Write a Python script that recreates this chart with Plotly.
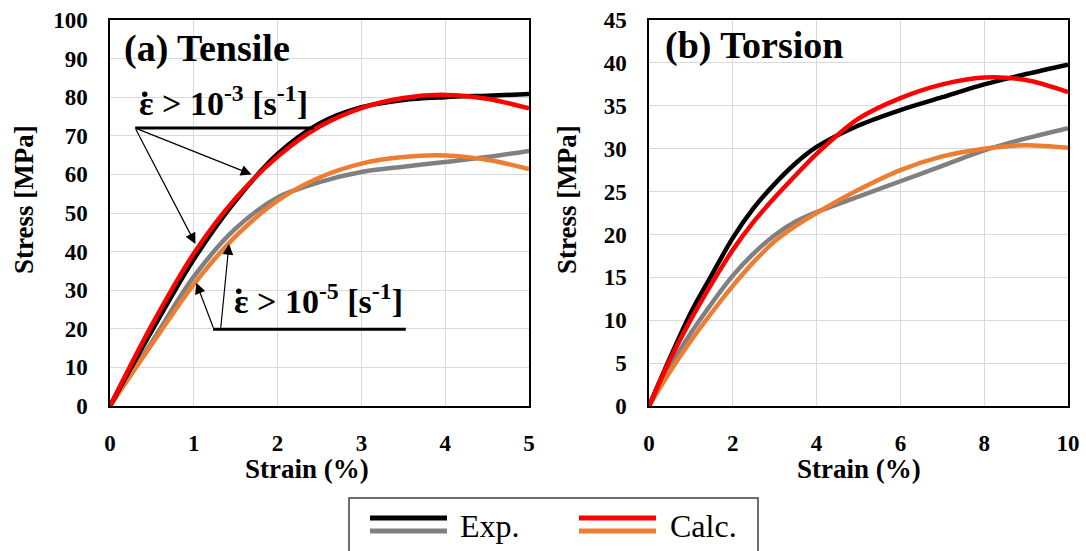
import plotly.graph_objects as go

W, H = 1086, 551

# ---------------- data ----------------
tens_x = [0, 0.5, 1, 1.5, 2, 2.5, 3, 3.5, 4, 4.5, 5]
tens_exp_hi = [0, 19.5, 38, 53.2, 65.3, 73.2, 77.4, 79.3, 80.0, 80.4, 80.8]
tens_calc_hi = [0, 21, 39.5, 53.8, 64.6, 72.4, 77.2, 79.8, 80.6, 79.6, 77.1]
tens_exp_lo = [0, 16.6, 33.5, 46, 54, 58, 60.6, 62, 63.2, 64.5, 66.1]
tens_calc_lo = [0, 16, 31.5, 44, 53.2, 59.2, 62.8, 64.5, 64.9, 63.8, 61.4]

tors_x = [0, 0.5, 1, 1.5, 2, 2.5, 3, 3.5, 4, 5, 6, 7, 8, 9, 10]
tors_exp_hi = [0, 5.6, 10.9, 15.3, 19.6, 23.1, 25.9, 28.3, 30.2, 32.7, 34.5, 36, 37.5, 38.7, 39.8]
tors_calc_hi = [0, 5.4, 10.1, 14.3, 18.2, 21.5, 24.3, 26.9, 29.4, 33.5, 35.9, 37.5, 38.3, 38, 36.6]
tors_exp_lo = [0, 4.6, 8.5, 12, 15.2, 17.8, 19.9, 21.5, 22.6, 24.4, 26.2, 28, 29.8, 31.2, 32.4]
tors_calc_lo = [0, 4, 7.6, 10.9, 14, 16.8, 19.2, 21, 22.5, 25.2, 27.5, 29.1, 30, 30.4, 30.1]

tens_ticks_y = list(range(0, 101, 10))
tors_ticks_y = list(range(0, 46, 5))

panel_titles = ["(a) Tensile", "(b) Torsion"]
x_title = "Strain (%)"
y_title = "Stress [MPa]"
rate_hi = "ε &gt; 10<sup>-3</sup> [s<sup>-1</sup>]"
rate_lo = "ε &gt; 10<sup>-5</sup> [s<sup>-1</sup>]"
legend_labels = ["Exp.", "Calc."]

C_EXP_HI, C_EXP_LO = "#000000", "#808080"
C_CALC_HI, C_CALC_LO = "#ff0000", "#ed7d31"

FONT = "Liberation Serif"

def px(x):
    return x / W

def py(y):
    return 1 - y / H

fig = go.Figure()

def add_curves(xs, ys_list, colors, xa, ya):
    for ys, c in zip(ys_list, colors):
        fig.add_trace(go.Scatter(x=xs, y=ys, mode="lines",
                                 line=dict(color=c, width=4.5, shape="spline", smoothing=0.9),
                                 xaxis=xa, yaxis=ya, showlegend=False, hoverinfo="skip"))

add_curves(tens_x, [tens_exp_lo, tens_calc_lo, tens_exp_hi, tens_calc_hi],
           [C_EXP_LO, C_CALC_LO, C_EXP_HI, C_CALC_HI], "x", "y")
add_curves(tors_x, [tors_exp_lo, tors_calc_lo, tors_exp_hi, tors_calc_hi],
           [C_EXP_LO, C_CALC_LO, C_EXP_HI, C_CALC_HI], "x2", "y2")

ax_common = dict(showgrid=True, gridcolor="#d9d9d9", gridwidth=1, zeroline=False,
                 showline=True, linecolor="black", linewidth=1.5, mirror=True,
                 ticks="", ticklabelstandoff=16, automargin=False,
                 tickfont=dict(family=FONT, size=23, color="black", weight="bold"))

fig.update_layout(
    width=W, height=H, margin=dict(l=0, r=0, t=0, b=0, pad=0, autoexpand=False),
    paper_bgcolor="white", plot_bgcolor="white", showlegend=False,
    xaxis=dict(domain=[px(110), px(529)], range=[0, 5], dtick=1, anchor="y", **ax_common),
    yaxis=dict(domain=[py(406), py(20)], range=[0, 100], tickvals=tens_ticks_y, anchor="x", **ax_common),
    xaxis2=dict(domain=[px(649), px(1068)], range=[0, 10], dtick=2, anchor="y2", **ax_common),
    yaxis2=dict(domain=[py(406), py(20)], range=[0, 45], tickvals=tors_ticks_y, anchor="x2", **ax_common),
)

ann = []
bold = lambda s: "<b>" + s + "</b>"
# panel titles
ann.append(dict(x=px(122), y=py(48), xref="paper", yref="paper", text=bold(panel_titles[0]),
                showarrow=False, xanchor="left", yanchor="middle",
                font=dict(family=FONT, size=38, color="black")))
ann.append(dict(x=px(663), y=py(46), xref="paper", yref="paper", text=bold(panel_titles[1]),
                showarrow=False, xanchor="left", yanchor="middle",
                font=dict(family=FONT, size=38, color="black")))
# axis titles
for cx in (px(307), px(859)):
    ann.append(dict(x=cx, y=py(469), xref="paper", yref="paper", text=bold(x_title),
                    showarrow=False, xanchor="center", yanchor="middle",
                    font=dict(family=FONT, size=27, color="black")))
for cx in (px(24), px(567)):
    ann.append(dict(x=cx, y=py(200), xref="paper", yref="paper", text=bold(y_title),
                    showarrow=False, xanchor="center", yanchor="middle", textangle=-90,
                    font=dict(family=FONT, size=27, color="black")))
# rate labels
ann.append(dict(x=0.32, y=79.0, xref="x", yref="y", text=bold(rate_hi), showarrow=False,
                xanchor="left", yanchor="middle", font=dict(family=FONT, size=34, color="black")))
ann.append(dict(x=1.45, y=27.6, xref="x", yref="y", text=bold(rate_lo), showarrow=False,
                xanchor="left", yanchor="middle", font=dict(family=FONT, size=34, color="black")))
# arrows
arrows = [((0.3, 72), (1.69, 60.0)), ((0.3, 72), (1.02, 42.0)),
          ((1.24, 19.9), (1.03, 31.9)), ((1.32, 19.9), (1.42, 42))]
for (tx, ty), (hx, hy) in arrows:
    ann.append(dict(x=hx, y=hy, ax=tx, ay=ty, xref="x", yref="y", axref="x", ayref="y",
                    text="", showarrow=True, arrowhead=2, arrowsize=1.8, arrowwidth=1.2,
                    arrowcolor="black"))
# legend texts
ann.append(dict(x=px(458), y=py(526), xref="paper", yref="paper", text=legend_labels[0],
                showarrow=False, xanchor="left", yanchor="middle",
                font=dict(family=FONT, size=32, color="black")))
ann.append(dict(x=px(668), y=py(526), xref="paper", yref="paper", text=legend_labels[1],
                showarrow=False, xanchor="left", yanchor="middle",
                font=dict(family=FONT, size=32, color="black")))
fig.update_layout(annotations=ann)

shapes = [
    dict(type="line", xref="x", yref="y", x0=0.3, y0=72, x1=2.43, y1=72,
         line=dict(color="black", width=3)),
    dict(type="line", xref="x", yref="y", x0=1.23, y0=19.9, x1=3.53, y1=19.9,
         line=dict(color="black", width=3)),
    # dots over epsilon
    dict(type="circle", xref="paper", yref="paper", x0=px(142), x1=px(147.5),
         y0=py(97), y1=py(91.5), fillcolor="black", line=dict(width=0)),
    dict(type="circle", xref="paper", yref="paper", x0=px(236), x1=px(241.5),
         y0=py(294), y1=py(288.5), fillcolor="black", line=dict(width=0)),
    # legend frame (three sides; bottom is cut off)
    dict(type="path", xref="paper", yref="paper",
         path=f"M {px(349)} {py(551)} L {px(349)} {py(498)} L {px(758)} {py(498)} L {px(758)} {py(551)}",
         line=dict(color="#404040", width=1.5)),
]
for x0, x1, c1, c2 in [(370, 447, C_EXP_HI, C_EXP_LO), (579, 656, C_CALC_HI, C_CALC_LO)]:
    shapes.append(dict(type="line", xref="paper", yref="paper", x0=px(x0), x1=px(x1),
                       y0=py(518), y1=py(518), line=dict(color=c1, width=5)))
    shapes.append(dict(type="line", xref="paper", yref="paper", x0=px(x0), x1=px(x1),
                       y0=py(531), y1=py(531), line=dict(color=c2, width=5)))
fig.update_layout(shapes=shapes)

fig.write_html("out.html")
